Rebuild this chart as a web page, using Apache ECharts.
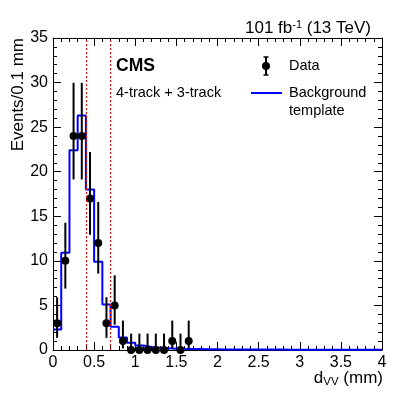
<!DOCTYPE html>
<html><head><meta charset="utf-8">
<script src="https://cdn.jsdelivr.net/npm/echarts@6/dist/echarts.min.js"></script>
<style>html,body{margin:0;padding:0;background:#fff}#c{width:407px;height:393px}</style>
</head><body><div id="c"></div>
<script>
// Data (bin centres, counts, asymmetric Poisson errors)
const binCenters = [0.05,0.15,0.25,0.35,0.45,0.55,0.65,0.75,0.85,0.95,1.05,1.15,1.25,1.35,1.45,1.55,1.65];
const dataCounts = [3,10,24,24,17,12,3,5,1,0,0,0,0,0,1,0,1];
const errLow  = [1.63,3.11,4.87,4.87,4.08,3.43,1.63,2.16,0.83,0,0,0,0,0,0.83,0,0.83];
const errHigh = [2.92,4.27,5.97,5.97,5.21,4.60,2.92,3.38,2.30,1.84,1.84,1.84,1.84,1.84,2.30,1.84,2.30];
// Background template (0.1 mm bins from 0 to 4)
const bgLowEdges = [0,0.1,0.2,0.3,0.4,0.5,0.6,0.7,0.8,0.9,1.0,1.1,1.2,1.3,1.4,1.5,1.6,1.7,1.8,1.9,2.0,2.1,2.2,2.3,2.4,2.5,2.6,2.7,2.8,2.9,3.0,3.1,3.2,3.3,3.4,3.5,3.6,3.7,3.8,3.9];
const bgValues = [2.3,10.9,22.4,26.3,18.0,9.9,5.1,2.6,1.4,0.8,0.5,0.35,0.25,0.2,0.15,0.12,0.1,0.1,0.08,0.08,0.07,0.07,0.06,0.06,0.05,0.05,0.05,0.05,0.04,0.04,0.04,0.04,0.04,0.04,0.04,0.04,0.04,0.04,0.04,0.04];
const xMax = 4;
const cutLines = [0.4, 0.7];
const xTicks = {min:0, max:4, interval:0.5};
const yTicks = {min:0, max:35, interval:5};

const FONT = 'Liberation Sans, Arial, Helvetica, sans-serif';
const stepData = bgLowEdges.map((e,i)=>[e,bgValues[i]]);
stepData.push([xMax, bgValues[bgValues.length-1]]);
const pointData = binCenters.map((x,i)=>[x,dataCounts[i]]);
const errData = binCenters.map((x,i)=>[x,dataCounts[i]-errLow[i],dataCounts[i]+errHigh[i]]);

const axisCommon = {
  axisLine:{show:true,onZero:false,lineStyle:{color:'#000',width:1}},
  axisTick:{show:true,inside:true,length:8,lineStyle:{color:'#000'}},
  minorTick:{show:true,splitNumber:5,length:4,lineStyle:{color:'#000'}},
  splitLine:{show:false}
};
const chart = echarts.init(document.getElementById('c'));
chart.setOption({
  animation:false,
  backgroundColor:'#fff',
  textStyle:{fontFamily:FONT},
  title:{
    text:'{n|101 fb}{s|-1}{n| (13 TeV)}',
    right:31, top:14,
    textStyle:{fontWeight:'normal',rich:{n:{fontSize:17,fontFamily:FONT,color:'#000',fontWeight:'normal'},s:{fontSize:11,fontFamily:FONT,color:'#000',fontWeight:'normal',verticalAlign:'top',padding:[0,0,8,0]}}}
  },
  grid:{left:53, top:38, width:329, height:312, containLabel:false},
  xAxis:[
    Object.assign({type:'value',position:'bottom',min:xTicks.min,max:xTicks.max,interval:xTicks.interval,
      axisLabel:{show:true,fontSize:16,color:'#000',margin:5,fontFamily:FONT}},axisCommon),
    Object.assign({type:'value',position:'top',min:xTicks.min,max:xTicks.max,interval:xTicks.interval,
      axisLabel:{show:false}},axisCommon)
  ],
  yAxis:[
    Object.assign({type:'value',position:'left',min:yTicks.min,max:yTicks.max,interval:yTicks.interval,
      axisLabel:{show:true,fontSize:16,color:'#000',margin:5,fontFamily:FONT}},axisCommon),
    Object.assign({type:'value',position:'right',min:yTicks.min,max:yTicks.max,interval:yTicks.interval,
      axisLabel:{show:false}},axisCommon)
  ],
  series:[
    {
      type:'line', name:'Background template', data:stepData, step:'end',
      showSymbol:false, symbol:'none', lineStyle:{color:'#0000ff',width:2}, z:2,
      markLine:{silent:true,symbol:'none',label:{show:false},
        lineStyle:{color:'#ff0000',type:[2,2],width:1},
        data:cutLines.map(v=>({xAxis:v}))}
    },
    {
      type:'custom', name:'Data errors', data:errData, clip:false, z:3,
      renderItem:function(params,api){
        const p1=api.coord([api.value(0),api.value(1)]);
        const p2=api.coord([api.value(0),api.value(2)]);
        return {type:'line',shape:{x1:p1[0],y1:p1[1],x2:p2[0],y2:p2[1]},style:{stroke:'#000',lineWidth:2}};
      }
    },
    {
      type:'scatter', name:'Data', data:pointData, symbol:'circle', symbolSize:8, clip:false,
      itemStyle:{color:'#000',opacity:1}, z:4
    }
  ],
  graphic:[
    {type:'text',left:116,top:57,style:{text:'CMS',font:'bold 17.5px '+FONT,fill:'#000'}},
    {type:'text',left:116,top:85,style:{text:'4-track + 3-track',font:'14.5px '+FONT,fill:'#000'}},
    // legend: data
    {type:'line',shape:{x1:266,y1:57,x2:266,y2:75},style:{stroke:'#000',lineWidth:2}},
    {type:'line',shape:{x1:263.5,y1:57,x2:268.5,y2:57},style:{stroke:'#000',lineWidth:1.5}},
    {type:'line',shape:{x1:263.5,y1:75,x2:268.5,y2:75},style:{stroke:'#000',lineWidth:1.5}},
    {type:'circle',shape:{cx:266,cy:66,r:4},style:{fill:'#000'}},
    {type:'text',left:289,top:58,style:{text:'Data',font:'14.5px '+FONT,fill:'#000'}},
    // legend: template
    {type:'line',shape:{x1:251,y1:93,x2:282,y2:93},style:{stroke:'#0000ff',lineWidth:2}},
    {type:'text',left:289,top:85,style:{text:'Background',font:'14.5px '+FONT,fill:'#000'}},
    {type:'text',left:289,top:103,style:{text:'template',font:'14.5px '+FONT,fill:'#000'}},
    // axis titles
    {type:'text',right:24,top:370,style:{text:'{n|d}{s|VV}{n| (mm)}',rich:{n:{fontSize:17,fontFamily:FONT,fill:'#000'},s:{fontSize:11.5,fontFamily:FONT,fill:'#000',verticalAlign:'bottom',padding:[7,0,0,0]}}}},
    {type:'text',x:18,y:38,rotation:Math.PI/2,style:{text:'Events/0.1 mm',font:'17px '+FONT,fill:'#000',align:'right',verticalAlign:'middle'}}
  ]
});
</script>
</body></html>
